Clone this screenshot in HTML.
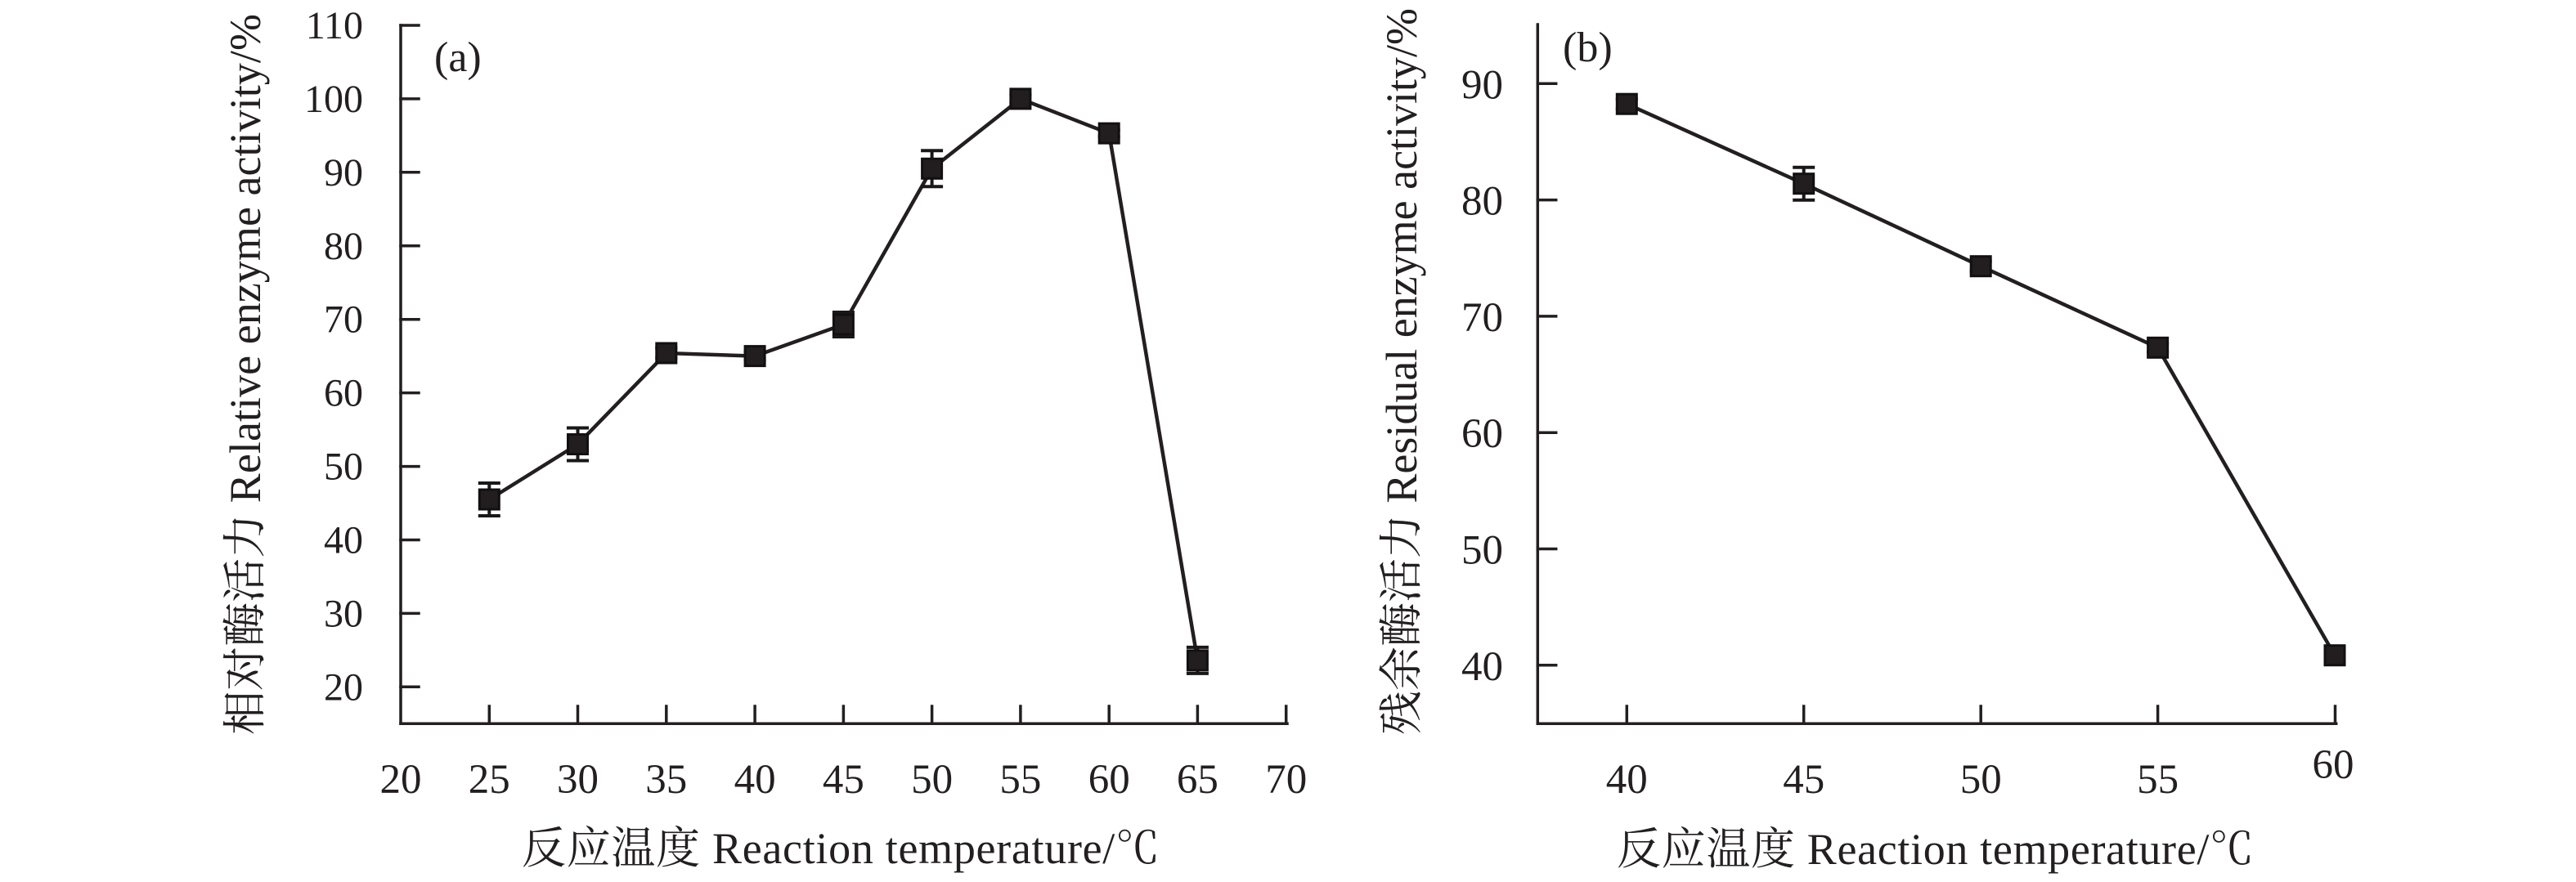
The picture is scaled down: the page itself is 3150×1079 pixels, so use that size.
<!DOCTYPE html>
<html>
<head>
<meta charset="utf-8">
<style>
  html, body { margin:0; padding:0; background:#ffffff; }
  svg { display:block; }
  .t { font-family:"Liberation Serif","Noto Serif CJK SC",serif; fill:#231f20; }
  .c { font-family:"Noto Serif CJK SC","Liberation Serif",serif; }
</style>
</head>
<body>
<svg width="3150" height="1079" viewBox="0 0 3150 1079" xmlns="http://www.w3.org/2000/svg">
  <rect width="3150" height="1079" fill="#ffffff"/>

  <!-- ================= Panel (a) ================= -->
  <g stroke="#231f20" stroke-width="3.5" fill="none" stroke-linecap="square">
    <!-- axes -->
    <line x1="490" y1="31" x2="490" y2="885.3"/>
    <line x1="490" y1="885.3" x2="1574" y2="885.3"/>
    <!-- y ticks -->
    <line x1="490" y1="31" x2="512" y2="31"/>
    <line x1="490" y1="120.9" x2="512" y2="120.9"/>
    <line x1="490" y1="210.8" x2="512" y2="210.8"/>
    <line x1="490" y1="300.8" x2="512" y2="300.8"/>
    <line x1="490" y1="390.7" x2="512" y2="390.7"/>
    <line x1="490" y1="480.6" x2="512" y2="480.6"/>
    <line x1="490" y1="570.6" x2="512" y2="570.6"/>
    <line x1="490" y1="660.5" x2="512" y2="660.5"/>
    <line x1="490" y1="750.4" x2="512" y2="750.4"/>
    <line x1="490" y1="840.3" x2="512" y2="840.3"/>
    <!-- x ticks -->
    <line x1="598.3" y1="885" x2="598.3" y2="864"/>
    <line x1="706.5" y1="885" x2="706.5" y2="864"/>
    <line x1="814.8" y1="885" x2="814.8" y2="864"/>
    <line x1="923.1" y1="885" x2="923.1" y2="864"/>
    <line x1="1031.4" y1="885" x2="1031.4" y2="864"/>
    <line x1="1139.6" y1="885" x2="1139.6" y2="864"/>
    <line x1="1247.9" y1="885" x2="1247.9" y2="864"/>
    <line x1="1356.2" y1="885" x2="1356.2" y2="864"/>
    <line x1="1464.4" y1="885" x2="1464.4" y2="864"/>
    <line x1="1572.7" y1="885" x2="1572.7" y2="864"/>
  </g>

  <!-- y tick labels (a) -->
  <g class="t" font-size="48" text-anchor="end">
    <text x="444" y="47">110</text>
    <text x="444" y="136.9">100</text>
    <text x="444" y="226.8">90</text>
    <text x="444" y="316.8">80</text>
    <text x="444" y="406.7">70</text>
    <text x="444" y="496.6">60</text>
    <text x="444" y="586.6">50</text>
    <text x="444" y="676.5">40</text>
    <text x="444" y="766.4">30</text>
    <text x="444" y="856.3">20</text>
  </g>
  <!-- x tick labels (a) -->
  <g class="t" font-size="51" text-anchor="middle">
    <text x="490" y="970">20</text>
    <text x="598.3" y="970">25</text>
    <text x="706.5" y="970">30</text>
    <text x="814.8" y="970">35</text>
    <text x="923.1" y="970">40</text>
    <text x="1031.4" y="970">45</text>
    <text x="1139.6" y="970">50</text>
    <text x="1247.9" y="970">55</text>
    <text x="1356.2" y="970">60</text>
    <text x="1464.4" y="970">65</text>
    <text x="1572.7" y="970">70</text>
  </g>

  <text class="t" x="531" y="87" font-size="52">(a)</text>

  <!-- data line (a) -->
  <polyline fill="none" stroke="#231f20" stroke-width="4.5" stroke-linejoin="miter"
    points="598.3,611.0 706.5,543.5 814.8,432.0 923.1,435.6 1031.4,397.0 1139.6,206.3 1247.9,120.9 1356.2,163.1 1464.4,807.9"/>

  <!-- error bars (a) -->
  <g stroke="#1a1718" stroke-width="4" fill="none">
    <line x1="598.3" y1="591" x2="598.3" y2="631"/><line x1="584.8" y1="591" x2="611.8" y2="591"/><line x1="584.8" y1="631" x2="611.8" y2="631"/>
    <line x1="706.5" y1="523.5" x2="706.5" y2="563.5"/><line x1="693" y1="523.5" x2="720" y2="523.5"/><line x1="693" y1="563.5" x2="720" y2="563.5"/>
    <line x1="814.8" y1="426" x2="814.8" y2="438"/><line x1="801.3" y1="426" x2="828.3" y2="426"/><line x1="801.3" y1="438" x2="828.3" y2="438"/>
    <line x1="923.1" y1="430.6" x2="923.1" y2="440.6"/><line x1="909.6" y1="430.6" x2="936.6" y2="430.6"/><line x1="909.6" y1="440.6" x2="936.6" y2="440.6"/>
    <line x1="1031.4" y1="382" x2="1031.4" y2="412"/><line x1="1017.9" y1="382" x2="1044.9" y2="382"/><line x1="1017.9" y1="412" x2="1044.9" y2="412"/>
    <line x1="1139.6" y1="184.3" x2="1139.6" y2="228.3"/><line x1="1126.1" y1="184.3" x2="1153.1" y2="184.3"/><line x1="1126.1" y1="228.3" x2="1153.1" y2="228.3"/>
    <line x1="1247.9" y1="115.9" x2="1247.9" y2="125.9"/><line x1="1234.4" y1="115.9" x2="1261.4" y2="115.9"/><line x1="1234.4" y1="125.9" x2="1261.4" y2="125.9"/>
    <line x1="1356.2" y1="159.1" x2="1356.2" y2="167.1"/><line x1="1342.7" y1="159.1" x2="1369.7" y2="159.1"/><line x1="1342.7" y1="167.1" x2="1369.7" y2="167.1"/>
    <line x1="1464.4" y1="791.9" x2="1464.4" y2="823.9"/><line x1="1450.9" y1="791.9" x2="1477.9" y2="791.9"/><line x1="1450.9" y1="823.9" x2="1477.9" y2="823.9"/>
  </g>
  <!-- markers (a) -->
  <g fill="#221e1f" stroke="#121011" stroke-width="3">
    <rect x="586.3" y="599" width="24" height="24"/>
    <rect x="694.5" y="531.5" width="24" height="24"/>
    <rect x="802.8" y="420" width="24" height="24"/>
    <rect x="911.1" y="423.6" width="24" height="24"/>
    <rect x="1019.4" y="385" width="24" height="24"/>
    <rect x="1127.6" y="194.3" width="24" height="24"/>
    <rect x="1235.9" y="108.9" width="24" height="24"/>
    <rect x="1344.2" y="151.1" width="24" height="24"/>
    <rect x="1452.4" y="795.9" width="24" height="24"/>
  </g>

  <!-- axis titles (a) -->
  <text class="t" x="638" y="1056" font-size="54" textLength="780" lengthAdjust="spacing"><tspan class="c">反应温度</tspan> Reaction temperature/<tspan class="c">℃</tspan></text>
  <text class="t" transform="translate(318,899) rotate(-90)" font-size="54" textLength="882" lengthAdjust="spacing"><tspan class="c">相对酶活力</tspan> Relative enzyme activity/%</text>

  <!-- ================= Panel (b) ================= -->
  <g stroke="#231f20" stroke-width="3.5" fill="none" stroke-linecap="square">
    <line x1="1880.3" y1="30" x2="1880.3" y2="885.3"/>
    <line x1="1880.3" y1="885.3" x2="2856.7" y2="885.3"/>
    <!-- y ticks -->
    <line x1="1880.3" y1="102.3" x2="1902.7" y2="102.3"/>
    <line x1="1880.3" y1="244.6" x2="1902.7" y2="244.6"/>
    <line x1="1880.3" y1="386.9" x2="1902.7" y2="386.9"/>
    <line x1="1880.3" y1="529.2" x2="1902.7" y2="529.2"/>
    <line x1="1880.3" y1="671.5" x2="1902.7" y2="671.5"/>
    <line x1="1880.3" y1="813.8" x2="1902.7" y2="813.8"/>
    <!-- x ticks -->
    <line x1="1989.3" y1="885" x2="1989.3" y2="864"/>
    <line x1="2205.7" y1="885" x2="2205.7" y2="864"/>
    <line x1="2422.2" y1="885" x2="2422.2" y2="864"/>
    <line x1="2638.6" y1="885" x2="2638.6" y2="864"/>
    <line x1="2855.5" y1="885" x2="2855.5" y2="864"/>
  </g>

  <g class="t" font-size="51" text-anchor="end">
    <text x="1838" y="120.3">90</text>
    <text x="1838" y="262.6">80</text>
    <text x="1838" y="404.9">70</text>
    <text x="1838" y="547.2">60</text>
    <text x="1838" y="689.5">50</text>
    <text x="1838" y="831.8">40</text>
  </g>
  <g class="t" font-size="51" text-anchor="middle">
    <text x="1989.3" y="970">40</text>
    <text x="2205.7" y="970">45</text>
    <text x="2422.2" y="970">50</text>
    <text x="2638.6" y="970">55</text>
    <text x="2853" y="952">60</text>
  </g>

  <text class="t" x="1911" y="75" font-size="52">(b)</text>

  <polyline fill="none" stroke="#231f20" stroke-width="4.5" stroke-linejoin="miter"
    points="1989.3,127.2 2205.7,224.7 2422.2,325.7 2638.6,425.3 2855.0,801.7"/>

  <g stroke="#1a1718" stroke-width="4" fill="none">
    <line x1="1989.3" y1="121.2" x2="1989.3" y2="133.2"/><line x1="1975.8" y1="121.2" x2="2002.8" y2="121.2"/><line x1="1975.8" y1="133.2" x2="2002.8" y2="133.2"/>
    <line x1="2205.7" y1="204.7" x2="2205.7" y2="244.7"/><line x1="2192.2" y1="204.7" x2="2219.2" y2="204.7"/><line x1="2192.2" y1="244.7" x2="2219.2" y2="244.7"/>
    <line x1="2422.2" y1="319.7" x2="2422.2" y2="331.7"/><line x1="2408.7" y1="319.7" x2="2435.7" y2="319.7"/><line x1="2408.7" y1="331.7" x2="2435.7" y2="331.7"/>
    <line x1="2638.6" y1="420.3" x2="2638.6" y2="430.3"/><line x1="2625.1" y1="420.3" x2="2652.1" y2="420.3"/><line x1="2625.1" y1="430.3" x2="2652.1" y2="430.3"/>
    <line x1="2855.0" y1="796.7" x2="2855.0" y2="806.7"/><line x1="2841.5" y1="796.7" x2="2868.5" y2="796.7"/><line x1="2841.5" y1="806.7" x2="2868.5" y2="806.7"/>
  </g>
  <g fill="#221e1f" stroke="#121011" stroke-width="3">
    <rect x="1977.3" y="115.2" width="24" height="24"/>
    <rect x="2193.7" y="212.7" width="24" height="24"/>
    <rect x="2410.2" y="313.7" width="24" height="24"/>
    <rect x="2626.6" y="413.3" width="24" height="24"/>
    <rect x="2843.0" y="789.7" width="24" height="24"/>
  </g>

  <text class="t" x="1977" y="1057" font-size="54" textLength="779" lengthAdjust="spacing"><tspan class="c">反应温度</tspan> Reaction temperature/<tspan class="c">℃</tspan></text>
  <text class="t" transform="translate(1732,899) rotate(-90)" font-size="54" textLength="889" lengthAdjust="spacing"><tspan class="c">残余酶活力</tspan> Residual enzyme activity/%</text>
</svg>
</body>
</html>
